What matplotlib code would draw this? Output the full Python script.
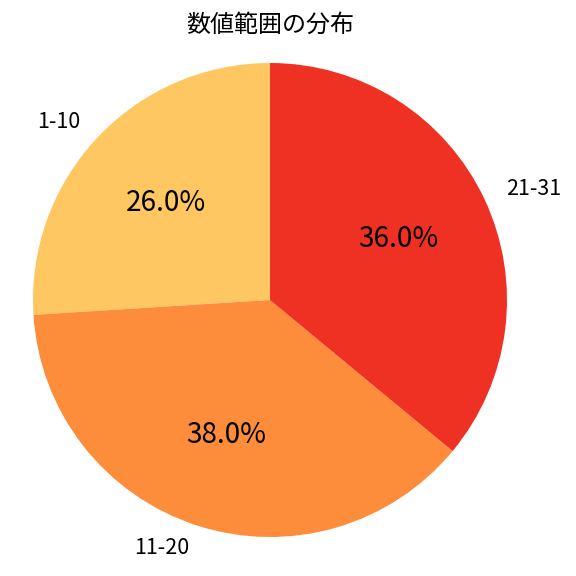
import matplotlib
matplotlib.use("Agg")
import matplotlib.pyplot as plt

plt.rcParams['font.family'] = ['Noto Sans CJK JP', 'DejaVu Sans']

labels = ["1-10", "11-20", "21-31"]
values = [26.0, 38.0, 36.0]
colors = ["#FEC762", "#FD8C3B", "#EF3123"]
title = "数値範囲の分布"

W = 576.0
fig = plt.figure(figsize=(6, 6), dpi=96)
R = 237.0
cx, cy = 270.0, 576.0 - 300.0
half = 1.1 * R
ax = fig.add_axes([(cx - half) / W, (cy - half) / W, 2 * half / W, 2 * half / W])
wedges, texts, autotexts = ax.pie(values, labels=labels, colors=colors, autopct="%1.1f%%",
                                  startangle=90, textprops={'fontsize': 16})
for t in autotexts:
    t.set_fontsize(21)
ax.set_xlim(-1.1, 1.1)
ax.set_ylim(-1.1, 1.1)
ax.set_aspect('equal')
fig.text(cx / W, 1 - 25 / W, title, fontsize=18, ha='center', va='center')
fig.savefig("out.png", dpi=96)
